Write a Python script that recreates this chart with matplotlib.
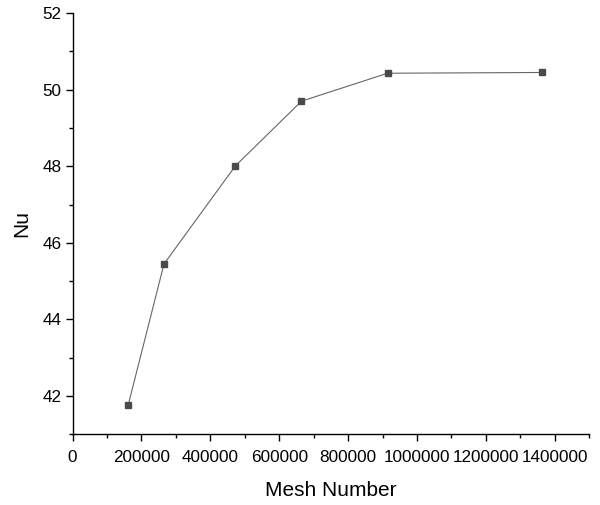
import matplotlib
matplotlib.use('Agg')
import matplotlib.pyplot as plt
import matplotlib.ticker as ticker

# mesh independence data
mesh_number = [161600, 265400, 472700, 664500, 914500, 1362000]
nu_values = [41.77, 45.45, 48.01, 49.70, 50.43, 50.45]

plt.rcParams['font.family'] = ['Liberation Sans', 'DejaVu Sans']

fig = plt.figure(figsize=(6, 5.05), dpi=100)
ax1 = fig.add_axes([0.121, 0.14, 0.861, 0.834])

ax1.plot(mesh_number, nu_values, color='#666666', linewidth=0.8, marker='s',
         markersize=5, markerfacecolor='#4a4a4a', markeredgecolor='#4a4a4a')

ax1.set_xlim(0, 1500000)
ax1.set_ylim(41, 52)
ax1.xaxis.set_major_locator(ticker.MultipleLocator(200000))
ax1.xaxis.set_minor_locator(ticker.MultipleLocator(100000))
ax1.yaxis.set_major_locator(ticker.MultipleLocator(2))
ax1.yaxis.set_minor_locator(ticker.MultipleLocator(1))
ax1.xaxis.set_major_formatter(ticker.FuncFormatter(lambda x, p: format(int(x), 'd')))

ax1.spines['top'].set_visible(False)
ax1.spines['right'].set_visible(False)
for s in ['left', 'bottom']:
    ax1.spines[s].set_linewidth(1.0)
ax1.tick_params(which='major', direction='out', length=5, width=1.0, labelsize=12.3, pad=3)
ax1.tick_params(axis='x', which='major', pad=6)
ax1.tick_params(which='minor', direction='out', length=3, width=1.0)

ax1.set_xlabel('Mesh Number', fontsize=15, labelpad=12)
ax1.set_ylabel('Nu', fontsize=15, labelpad=8)

fig.savefig('out.png', dpi=100)
